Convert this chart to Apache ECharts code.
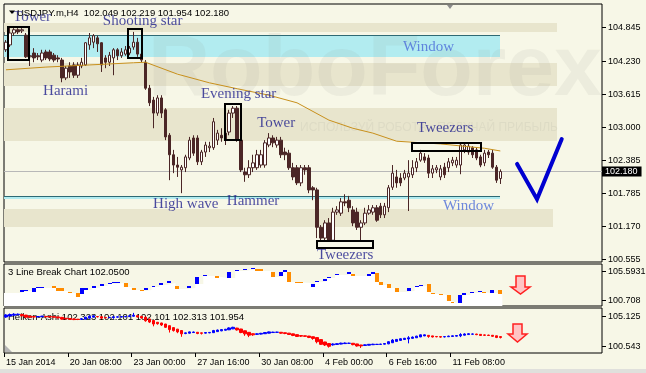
<!DOCTYPE html>
<html><head><meta charset="utf-8">
<script src="https://cdn.jsdelivr.net/npm/echarts@6/dist/echarts.min.js"></script>
<style>html,body{margin:0;padding:0;background:#f7f7e7;}#c{width:646px;height:373px;}</style>
</head><body><div id="c"></div>
<script>
// ---------- DATA ----------
const slotCount = 150;               // bar slots on the time axis (125 bars + right shift)
// USDJPY H4 candles: [open, close, low, high]
const candles = [
[104.43,104.57,104.39,104.61],[104.52,104.74,104.48,104.85],[104.74,104.80,104.69,104.83],[104.80,104.76,104.72,104.83],
[104.78,104.80,104.74,104.83],[104.70,104.30,104.28,104.74],[104.30,104.32,104.13,104.35],[104.37,104.28,104.20,104.46],
[104.32,104.30,104.24,104.37],[104.24,104.37,104.20,104.43],[104.39,104.28,104.24,104.43],[104.39,104.26,104.22,104.43],
[104.33,104.24,104.20,104.37],[104.28,104.26,104.20,104.33],[104.24,103.91,103.83,104.28],[103.91,104.09,103.87,104.13],
[104.13,104.02,103.91,104.20],[104.15,103.96,103.91,104.20],[103.96,104.15,103.91,104.20],[104.13,104.20,104.09,104.28],
[104.15,104.56,104.13,104.57],[104.52,104.65,104.43,104.74],[104.57,104.69,104.46,104.72],[104.65,104.54,104.39,104.69],
[104.56,104.15,104.02,104.57],[104.28,104.20,104.09,104.33],[104.20,104.33,104.13,104.39],[104.28,104.43,103.96,104.46],
[104.43,104.32,104.24,104.46],[104.32,104.39,104.28,104.46],[104.35,104.43,104.32,104.50],[104.37,104.46,104.33,104.50],
[104.48,104.57,104.43,104.76],[104.57,104.35,104.30,104.65],[104.35,104.24,104.20,104.39],[104.20,103.72,103.69,104.24],
[103.72,103.45,103.39,103.78],[103.50,103.26,102.98,103.56],[103.26,103.54,103.21,103.59],[103.54,103.26,103.17,103.59],
[103.32,102.82,102.76,103.35],[102.85,102.49,102.02,102.89],[102.49,102.30,102.15,102.58],[102.30,102.26,102.08,102.45],
[102.21,102.26,101.78,102.30],[102.25,102.45,102.17,102.49],[102.43,102.76,102.39,102.82],[102.80,102.52,102.47,102.85],
[102.80,102.36,102.30,102.85],[102.36,102.54,102.30,102.58],[102.54,102.67,102.45,102.73],[102.62,102.65,102.54,102.73],
[102.62,103.10,102.58,103.17],[102.76,102.89,102.67,102.95],[102.85,102.80,102.73,102.98],[102.89,102.76,102.67,102.95],
[102.91,103.26,102.85,103.32],[103.26,103.35,103.17,103.39],[103.35,102.76,102.73,103.39],[102.76,102.21,102.17,102.80],
[102.17,102.12,101.99,102.25],[102.12,102.25,102.06,102.39],[102.25,102.34,102.17,102.49],[102.25,102.49,102.21,102.58],
[102.30,102.49,102.25,102.58],[102.30,102.71,102.25,102.76],[102.67,102.80,102.63,102.89],[102.80,102.71,102.63,102.85],
[102.67,102.76,102.62,102.82],[102.76,102.49,102.43,102.82],[102.54,102.49,102.39,102.62],[102.52,102.25,102.21,102.58],
[102.25,102.08,102.02,102.34],[102.25,101.97,101.93,102.30],[101.97,102.25,101.91,102.30],[102.25,102.21,102.12,102.30],
[102.25,101.84,101.78,102.30],[101.88,101.84,101.65,101.91],[101.84,101.15,100.95,101.88],[101.15,100.95,100.91,101.19],
[100.95,101.23,100.91,101.28],[101.23,100.91,100.88,101.32],[100.91,101.43,100.88,101.51],[101.43,101.47,101.38,101.54],
[101.41,101.62,101.36,101.69],[101.62,101.60,101.54,101.76],[101.65,101.51,101.43,101.73],[101.47,101.23,101.17,101.54],
[101.43,101.15,101.10,101.51],[101.15,101.23,100.91,101.28],[101.23,101.41,101.19,101.51],[101.41,101.47,101.38,101.56],
[101.43,101.51,101.38,101.56],[101.51,101.28,101.25,101.56],[101.54,101.38,101.32,101.60],[101.38,101.54,101.32,101.60],
[101.51,101.88,101.43,101.93],[101.89,102.15,101.84,102.30],[102.08,101.97,101.88,102.21],[102.06,101.97,101.91,102.15],
[102.06,102.15,102.02,102.21],[102.08,102.15,101.45,102.39],[102.12,102.25,102.06,102.39],[102.25,102.36,102.17,102.43],
[102.39,102.52,102.36,102.58],[102.45,102.39,102.34,102.52],[102.43,102.15,102.06,102.49],[102.15,102.23,102.06,102.30],
[102.21,102.25,102.15,102.30],[102.08,102.23,102.02,102.30],[102.26,102.12,102.06,102.34],[102.25,102.36,102.17,102.43],
[102.34,102.39,102.28,102.45],[102.30,102.39,102.25,102.45],[102.30,102.67,102.13,102.71],[102.58,102.67,102.52,102.71],
[102.54,102.65,102.49,102.71],[102.62,102.49,102.43,102.65],[102.58,102.43,102.39,102.62],[102.45,102.30,102.26,102.49],
[102.34,102.52,102.28,102.58],[102.54,102.49,102.43,102.58],[102.52,102.26,102.23,102.58],[102.26,102.02,101.97,102.30],
[102.05,102.18,101.95,102.22]
];
// moving average, read at selected bars: [barIndex, value]
const maPoints = [[0,104.06],[10,104.11],[21,104.15],[32,104.19],[35,104.20],[43,103.98],[51,103.82],[58,103.71],
[66,103.59],[73,103.45],[81,103.13],[87,102.98],[92,102.89],[98,102.74],[109,102.69],[120,102.61],[124,102.56]];
// horizontal zones: [fromSlot, toSlot, low, high]
const bandZones = [[0,138.7,104.76,104.92],[0,138.7,103.76,104.19],[0,138.7,102.74,103.35],[0,137.7,101.15,101.49]];
const windowZones = [[0,124.4,104.30,104.70],[0,124.4,101.67,101.73]];
// pattern boxes: [fromSlot, toSlot, low, high]
const patternBoxes = [[1.0,6.3,104.24,104.85],[31.1,34.6,104.28,104.81],[55.4,59.4,102.76,103.43],
[102.3,119.6,102.56,102.71],[78.5,92.5,100.77,100.90]];
// pattern names: [text, slot, price, kind]
const patternLabels = [['Tower',2.26,105.04,'p'],['Shooting star',24.8,104.96,'p'],['Window',100.1,104.48,'w'],
['Harami',9.8,103.67,'p'],['Evening star',49.4,103.61,'p'],['Tower',63.5,103.08,'p'],['Tweezers',103.6,102.98,'p'],
['High wave',37.4,101.58,'p'],['Hammer',55.9,101.64,'p'],['Window',110.1,101.54,'w'],['Tweezers',78.5,100.64,'p']];
const checkMark = [[128.7,102.32],[133.7,101.67],[139.9,102.78]];
const lastPrice = 102.180;
const titleText = 'USDJPY.m,H4  102.049 102.219 101.954 102.180';
// 3 Line Break bricks: [fromSlot, toSlot, low, high, dir]
const lbStartLevel = 101.89;
const lbBricks = [
[4,4,102.06,102.39,1],[5,5,102.23,102.39,1],[7,7,102.06,102.73,1],[8,9,102.73,102.90,1],[12,12,102.73,103.07,-1],
[13,14,102.23,102.73,-1],[16,16,101.89,102.06,-1],[18,18,101.22,101.89,-1],[19,19,101.72,102.73,1],[20,20,102.39,102.73,1],
[22,22,102.73,103.07,1],[24,24,103.07,103.41,1],[26,26,103.41,103.57,1],[27,28,103.57,103.74,1],[30,30,102.90,103.57,-1],
[32,32,102.39,102.73,-1],[34,34,102.23,102.39,-1],[35,35,102.39,102.73,1],[37,37,102.90,103.07,1],[39,39,103.24,103.57,1],
[41,41,103.57,103.91,1],[43,43,102.56,103.07,-1],[46,46,102.73,103.07,1],[48,48,103.41,104.58,1],[50,50,104.75,104.92,1],
[53,53,104.42,104.75,-1],[56,56,104.42,105.42,1],[58,58,105.59,105.76,1],[60,60,105.76,105.93,1],[62,62,105.93,106.10,1],
[63,64,105.59,105.93,-1],[67,67,104.58,105.42,-1],[69,69,104.75,105.42,1],[70,70,105.42,105.76,1],[71,71,103.74,105.42,-1],
[73,74,103.57,103.74,-1],[77,77,102.90,103.41,1],[78,78,103.74,103.91,1],[80,80,103.91,104.25,1],[81,81,104.42,104.58,1],
[83,83,104.92,105.09,1],[86,86,105.09,105.42,1],[87,87,104.75,105.09,-1],[91,91,104.75,105.09,1],[92,92,105.09,105.42,1],
[93,93,103.74,105.26,-1],[94,94,103.24,103.74,-1],[96,96,102.73,103.41,-1],[98,98,102.06,102.73,-1],[101,101,102.23,102.73,1],
[103,103,102.90,103.07,1],[104,104,103.07,103.24,1],[106,106,102.06,103.41,-1],[107,107,101.72,101.89,-1],[109,109,101.55,101.72,-1],
[111,111,100.54,101.55,-1],[112,112,100.21,100.37,-1],[114,114,100.21,101.55,1],[115,115,101.55,101.89,1],[117,117,101.89,102.06,1],
[119,119,102.06,102.23,1],[120,120,101.89,102.06,-1],[122,122,101.89,102.39,1],[124,124,101.72,102.39,-1]
];
const lbLabel = '3 Line Break Chart 102.0500';
// Heiken-Ashi: [open, close, low, high]
const heikenAshi = [
[104.97,105.28,104.85,105.40],[105.12,105.35,105.05,105.50],[105.24,105.40,105.15,105.55],[105.32,105.40,105.25,105.50],
[105.36,105.15,105.05,105.42],[105.26,104.95,104.85,105.30],[105.10,104.95,104.80,105.15],[105.03,104.97,104.85,105.10],
[105.00,105.05,104.90,105.10],[105.02,105.10,104.95,105.15],[105.06,105.00,104.92,105.10],[105.03,104.98,104.90,105.08],
[105.01,104.95,104.88,105.05],[104.98,104.85,104.75,105.00],[104.92,104.65,104.55,104.95],[104.78,104.70,104.60,104.82],
[104.74,104.62,104.55,104.78],[104.68,104.58,104.50,104.72],[104.63,104.60,104.50,104.68],[104.61,104.70,104.55,104.78],
[104.65,104.95,104.60,105.00],[104.80,105.10,104.75,105.20],[104.95,105.15,104.90,105.22],[105.05,105.00,104.90,105.10],
[105.02,104.80,104.70,105.05],[104.91,104.85,104.75,104.95],[104.88,104.92,104.80,104.98],[104.90,105.00,104.70,105.05],
[104.95,105.00,104.90,105.05],[104.97,105.02,104.92,105.08],[105.00,105.06,104.95,105.12],[105.03,105.15,104.98,105.30],
[105.09,105.25,105.02,105.60],[105.17,104.97,104.90,105.20],[105.07,104.82,104.75,105.10],[104.95,104.40,104.25,104.97],
[104.67,104.20,104.05,104.70],[104.44,103.90,103.55,104.46],[104.17,103.95,103.80,104.20],[104.06,103.75,103.60,104.10],
[103.90,103.40,103.30,103.92],[103.65,103.05,102.60,103.67],[103.35,102.90,102.75,103.38],[103.12,102.70,102.50,103.15],
[102.91,102.40,101.95,102.93],[102.45,102.55,102.35,102.60],[102.50,102.70,102.45,102.75],[102.60,102.68,102.55,102.75],
[102.64,102.45,102.35,102.66],[102.55,102.48,102.30,102.58],[102.51,102.60,102.45,102.65],[102.55,102.62,102.50,102.68],
[102.58,102.90,102.55,103.00],[102.74,102.98,102.70,103.05],[102.86,103.05,102.80,103.14],[102.95,103.10,102.90,103.15],
[103.02,103.30,102.98,103.40],[103.16,103.40,103.12,103.48],[103.28,103.00,102.90,103.32],[103.14,102.60,102.50,103.16],
[102.87,102.40,102.10,102.89],[102.63,102.20,101.90,102.65],[102.42,102.25,102.10,102.45],[102.33,102.40,102.25,102.48],
[102.36,102.48,102.30,102.55],[102.42,102.60,102.38,102.65],[102.51,102.70,102.48,102.75],[102.60,102.66,102.55,102.72],
[102.63,102.66,102.55,102.72],[102.64,102.50,102.40,102.66],[102.57,102.45,102.35,102.60],[102.51,102.30,102.22,102.53],
[102.40,102.15,102.05,102.42],[102.28,102.00,101.92,102.30],[102.14,102.05,101.92,102.16],[102.10,102.02,101.95,102.12],
[102.06,101.85,101.75,102.08],[101.96,101.70,101.50,101.98],[101.83,101.20,100.95,101.85],[101.52,100.80,100.70,101.54],
[101.16,100.70,100.55,101.18],[100.93,100.50,100.30,100.95],[100.72,100.85,100.60,100.95],[100.78,100.90,100.72,100.95],
[100.84,100.98,100.80,101.05],[100.91,101.00,100.85,101.08],[100.95,100.97,100.90,101.05],[100.96,100.75,100.65,100.98],
[100.86,100.55,100.45,100.88],[100.70,100.55,100.25,100.72],[100.63,100.72,100.58,100.80],[100.67,100.80,100.63,100.85],
[100.74,100.82,100.70,100.88],[100.78,100.80,100.75,100.86],[100.79,100.84,100.76,100.88],[100.82,100.92,100.78,100.96],
[100.87,101.20,100.82,101.25],[101.04,101.45,101.00,101.60],[101.25,101.55,101.20,101.60],[101.40,101.65,101.35,101.70],
[101.53,101.72,101.50,101.78],[101.62,101.80,100.95,102.05],[101.71,101.90,101.66,102.00],[101.80,102.05,101.78,102.10],
[101.93,102.25,101.90,102.30],[102.09,102.25,102.05,102.30],[102.17,102.00,101.80,102.20],[102.09,101.92,101.85,102.11],
[102.00,101.95,101.88,102.05],[101.98,101.90,101.80,102.00],[101.94,101.98,101.85,102.05],[101.96,102.05,101.92,102.12],
[102.00,102.10,101.96,102.15],[102.05,102.14,102.00,102.20],[102.10,102.30,101.90,102.50],[102.20,102.38,102.15,102.48],
[102.29,102.42,102.25,102.50],[102.35,102.38,102.28,102.45],[102.37,102.28,102.20,102.40],[102.32,102.15,102.08,102.34],
[102.24,102.18,102.08,102.30],[102.21,102.15,102.10,102.26],[102.18,102.02,101.95,102.22],[102.10,101.85,101.75,102.12],
[101.98,101.85,101.70,102.00]
];
const haLabel = 'Heiken-Ashi 102.323 102.101 102.101 102.313 101.954';
// axis ticks
const mainTickValues = [104.845,104.230,103.615,103.000,102.385,101.785,101.170,100.555];
const mainTickLabels = ['104.845','104.230','103.615','103.000','102.385','101.785','101.170','100.555'];
const lbTickValues = [105.5931,100.708];
const lbTickLabels = ['105.5931','100.708'];
const haTickValues = [105.125,100.543];
const haTickLabels = ['105.125','100.543'];
const timeTickBars = [0,16,32,48,64,80,96,112];
const timeTickLabels = ['15 Jan 2014','20 Jan 08:00','23 Jan 00:00','27 Jan 16:00','30 Jan 08:00','4 Feb 00:00','6 Feb 16:00','11 Feb 08:00'];

// ---------- CHART ----------
const FONT = 'Liberation Sans';
const BG = '#f7f7e7';
const cats = Array.from({length: slotCount}, (_, i) => String(i));
function nearest(vals, labels) {
  return v => { let b = 0; for (let i = 1; i < vals.length; i++) if (Math.abs(vals[i]-v) < Math.abs(vals[b]-v)) b = i; return labels[b]; };
}
function yAxis(grid, min, max) {
  return {type:'value', gridIndex:grid, position:'right', min, max, show:false,
    splitLine:{show:false}, axisLine:{show:false, onZero:false}, axisTick:{show:false}, axisLabel:{show:false}};
}
// price scale on the right of each panel: tick mark + label, placed through the panel's own axes
function priceScale(xIdx, yIdx, vals, labels) {
  return {type:'custom', xAxisIndex:xIdx, yAxisIndex:yIdx, z:10, silent:true, clip:false,
    data: vals.map(v => [slotCount, v]), encode:{x:0, y:1},
    renderItem:(p, api) => { const c = api.coord([api.value(0), api.value(1)]); const y = Math.round(c[1]) + 0.5;
      return {type:'group', children:[
        {type:'line', shape:{x1:c[0], y1:y, x2:c[0] + 4, y2:y}, style:{stroke:'#000', lineWidth:1}},
        {type:'text', style:{x:c[0] + 6, y:y, text:labels[p.dataIndex], fill:'#000', font:'9px "Liberation Sans"', textVerticalAlign:'middle'}}]}; }};
}
function rectFrom(api, x1, x2, lo, hi) {
  const a = api.coord([x1, hi]), b = api.coord([x2, lo]);
  const x = Math.round(a[0]), y = Math.round(a[1]);
  return {x, y, width: Math.round(b[0]) - x, height: Math.max(1, Math.round(b[1]) - y)};
}
const gridBase = {left:4, right:44, show:true, borderColor:'#000', borderWidth:1, backgroundColor:BG};
const hiddenX = {show:false, axisLine:{show:false, onZero:false}, axisTick:{show:false}, axisLabel:{show:false}, splitLine:{show:false}};

const chart = echarts.init(document.getElementById('c'));
chart.setOption({
  animation:false,
  backgroundColor:BG,
  grid:[{...gridBase, top:4, height:258},{...gridBase, top:264, height:42},{...gridBase, top:308, height:45}],
  xAxis:[
    {type:'category', gridIndex:0, data:cats, boundaryGap:true, ...hiddenX},
    {type:'value', gridIndex:0, min:0, max:slotCount, ...hiddenX},
    {type:'value', gridIndex:1, min:0, max:slotCount, ...hiddenX},
    {type:'category', gridIndex:2, data:cats, boundaryGap:true, ...hiddenX},
    {type:'value', gridIndex:2, min:0, max:slotCount, position:'bottom', splitLine:{show:false}, axisLine:{show:false, onZero:false},
      axisTick:{show:true, customValues:timeTickBars, length:4, lineStyle:{color:'#000'}},
      axisLabel:{customValues:timeTickBars, formatter:nearest(timeTickBars, timeTickLabels), align:'left', padding:[0,0,0,2],
        margin:5, color:'#000', fontFamily:FONT, fontSize:9}}
  ],
  yAxis:[ yAxis(0, 100.508, 105.276), yAxis(1, 99.70, 106.77), yAxis(2, 99.476, 106.346) ],
  series:[
    {type:'custom', name:'bands', xAxisIndex:1, yAxisIndex:0, z:1, silent:true, clip:true, data:bandZones, encode:{x:[0,1], y:[2,3]},
      renderItem:(p, api) => ({type:'rect', shape:rectFrom(api, api.value(0), api.value(1), api.value(2), api.value(3)), style:{fill:'#e8e5cd'}}),
      markLine:{silent:true, symbol:'none', data:[{yAxis:lastPrice}], lineStyle:{color:'#b8b8b8', type:'solid', width:1},
        label:{position:'end', formatter:lastPrice.toFixed(3), backgroundColor:'#000', color:'#fff', padding:[1,4,0,3], fontSize:9, fontFamily:FONT, distance:0}}},
    {type:'custom', name:'windows', xAxisIndex:1, yAxisIndex:0, z:1, silent:true, clip:true, data:windowZones, encode:{x:[0,1], y:[2,3]},
      renderItem:(p, api) => { const r = rectFrom(api, api.value(0), api.value(1), api.value(2), api.value(3));
        return {type:'group', children:[{type:'rect', shape:r, style:{fill:'#b2ecf0'}},
          {type:'line', shape:{x1:r.x, y1:r.y+0.5, x2:r.x+r.width, y2:r.y+0.5}, style:{stroke:'#2f6a74', lineWidth:1}}]}; }},
    {type:'candlestick', name:'USDJPY', xAxisIndex:0, yAxisIndex:0, z:5, data:candles, barWidth:3,
      itemStyle:{color:'#ffffff', color0:'#4b2626', borderColor:'#4b2626', borderColor0:'#4b2626', borderWidth:1}},
    {type:'line', name:'MA', xAxisIndex:1, yAxisIndex:0, z:6, data:maPoints.map(([b, v]) => [b + 0.5, v]), symbol:'none',
      lineStyle:{color:'#c8901c', width:1}},
    {type:'custom', name:'boxes', xAxisIndex:1, yAxisIndex:0, z:7, silent:true, data:patternBoxes, encode:{x:[0,1], y:[2,3]},
      renderItem:(p, api) => ({type:'rect', shape:rectFrom(api, api.value(0), api.value(1), api.value(2), api.value(3)),
        style:{fill:'none', stroke:'#000', lineWidth:2}})},
    {type:'line', name:'check', xAxisIndex:1, yAxisIndex:0, z:8, data:checkMark, symbol:'none',
      lineStyle:{color:'#0000d0', width:4, cap:'round', join:'miter'}},
    {type:'scatter', name:'labels', xAxisIndex:1, yAxisIndex:0, z:9, symbolSize:0, silent:true,
      data:patternLabels.map(([t, x, y, k]) => ({value:[x, y], name:t, label:{color: k === 'w' ? '#4a6ad8' : '#1e1e8c'}})),
      label:{show:true, position:'right', distance:0, formatter:'{b}', fontFamily:'Liberation Serif', fontSize:15}},
    {type:'line', name:'lbBase', xAxisIndex:2, yAxisIndex:1, z:2, step:'end', symbol:'none',
      data:[[0, lbStartLevel], ...lbBricks.map(b => [b[0], b[2]]), [lbBricks[lbBricks.length-1][1] + 1, lbBricks[lbBricks.length-1][2]]],
      lineStyle:{width:0}, areaStyle:{color:'#ffffff', opacity:1, origin:'start'}},
    {type:'custom', name:'lbBricks', xAxisIndex:2, yAxisIndex:1, z:3, silent:true, data:lbBricks, encode:{x:[0,1], y:[2,3]},
      renderItem:(p, api) => ({type:'rect', shape:rectFrom(api, api.value(0), api.value(1) + 1, api.value(2), api.value(3)),
        style:{fill: api.value(4) > 0 ? '#0000ff' : '#ff8c00'}})},
    {type:'candlestick', name:'Heiken-Ashi', xAxisIndex:3, yAxisIndex:2, z:3, data:heikenAshi, barWidth:3,
      itemStyle:{color:'#0000ff', color0:'#ff0000', borderColor:'#0000ff', borderColor0:'#ff0000', borderWidth:1}},
    priceScale(1, 0, mainTickValues, mainTickLabels),
    priceScale(2, 1, lbTickValues, lbTickLabels),
    priceScale(4, 2, haTickValues, haTickLabels)
  ],
  graphic:[
    {type:'text', z:2, silent:true, style:{x:148, y:114, text:'RoboForex', font:'bold 86px "Liberation Sans"', fill:'rgba(150,150,140,0.10)', textVerticalAlign:'bottom'}},
    {type:'text', z:2, silent:true, style:{x:300, y:128, text:'ИСПОЛЬЗУЙ РОБОТА · ПОЛУЧАЙ ПРИБЫЛЬ', font:'12px "Liberation Sans"', fill:'rgba(150,150,140,0.12)', textVerticalAlign:'middle'}},
    {type:'polygon', z:20, silent:true, shape:{points:[[9,10.5],[15,10.5],[12,14]]}, style:{fill:'#000'}},
    {type:'text', z:20, silent:true, style:{x:17, y:13, text:titleText, font:'9.5px "Liberation Sans"', fill:'#000', textVerticalAlign:'middle'}},
    {type:'polygon', z:20, silent:true, shape:{points:[[447,5],[453,5],[450,9]]}, style:{fill:'#8c8c8c'}},
    {type:'text', z:20, silent:true, style:{x:8, y:272.5, text:lbLabel, font:'9.5px "Liberation Sans"', fill:'#000', textVerticalAlign:'middle'}},
    {type:'text', z:1, silent:true, style:{x:8, y:317, text:haLabel, font:'9.5px "Liberation Sans"', fill:'#000', textVerticalAlign:'middle'}},
    {type:'polygon', z:20, silent:true, shape:{points:[[516,276],[525,276],[525,287],[530,287],[520.5,294],[511,287],[516,287]]},
      style:{fill:'#ffc4c4', stroke:'#ff2020', lineWidth:1.5}},
    {type:'polygon', z:20, silent:true, shape:{points:[[513,324],[522,324],[522,334],[527,334],[517.5,342],[508,334],[513,334]]},
      style:{fill:'#ffc4c4', stroke:'#ff2020', lineWidth:1.5}},
    {type:'polygon', z:20, silent:true, shape:{points:[[5,345],[5,352],[12,352]]}, style:{fill:'#b4b4b4'}},
    {type:'rect', z:20, silent:true, shape:{x:0, y:369, width:646, height:4}, style:{fill:'#e0e0dc'}}
  ]
});
</script></body></html>
